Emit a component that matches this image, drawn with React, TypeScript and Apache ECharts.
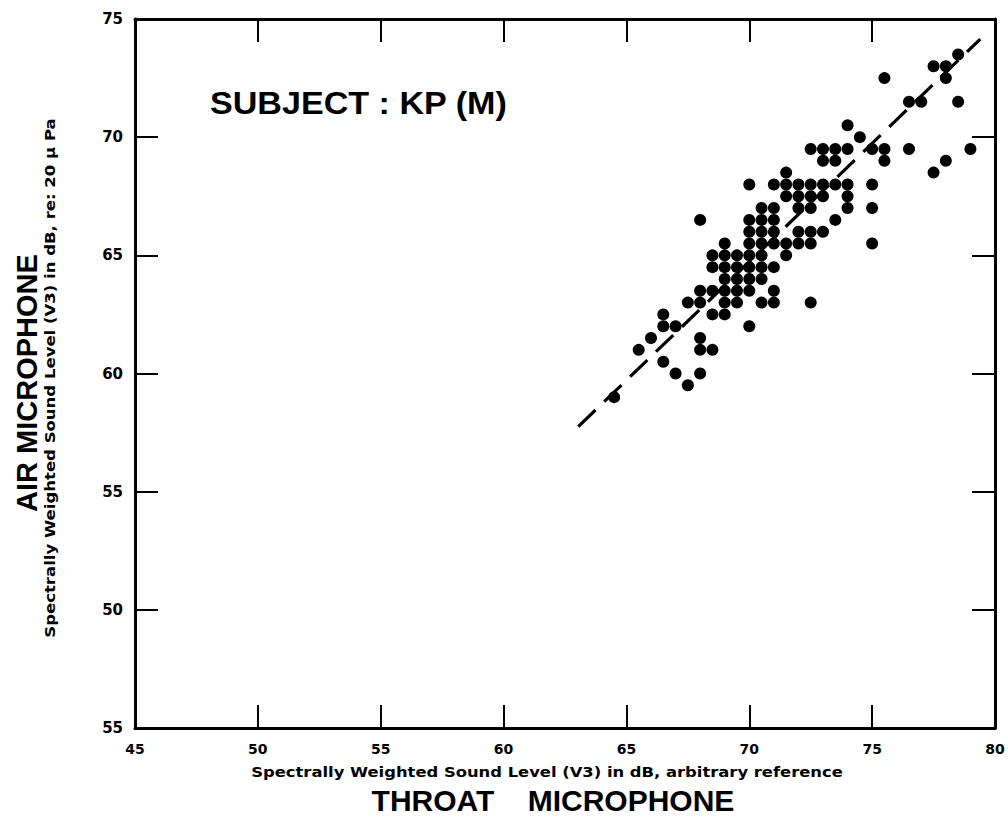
import React, { useEffect, useRef } from "react";
import * as echarts from "echarts";

// Data (dB values, 0.5 dB steps)
const throatDb: number[] = [
  78.5,
  77.5, 78,
  75.5, 78,
  76.5, 77, 78.5,
  74,
  74.5,
  72.5, 73, 73.5, 74, 75, 75.5, 76.5, 79,
  73, 73.5, 75.5, 78,
  71.5, 77.5,
  70, 71, 71.5, 72, 72.5, 73, 73.5, 74, 75,
  71.5, 72, 72.5, 73, 74,
  70.5, 71, 72, 72.5, 74, 75,
  68, 70, 70.5, 71, 73.5,
  70, 70.5, 71, 72, 72.5, 73,
  69, 70, 70.5, 71, 71.5, 72, 72.5, 75,
  68.5, 69, 69.5, 70, 70.5, 71.5,
  68.5, 69, 69.5, 70, 70.5, 71,
  69, 69.5, 70, 70.5,
  68, 68.5, 69, 69.5, 70, 71,
  67.5, 68, 69, 69.5, 70.5, 71, 72.5,
  66.5, 68.5, 69,
  66.5, 67, 70,
  66, 68,
  65.5, 68, 68.5,
  66.5,
  67, 68,
  67.5,
  64.5,
];

const airDb: number[] = [
  73.5,
  73, 73,
  72.5, 72.5,
  71.5, 71.5, 71.5,
  70.5,
  70,
  69.5, 69.5, 69.5, 69.5, 69.5, 69.5, 69.5, 69.5,
  69, 69, 69, 69,
  68.5, 68.5,
  68, 68, 68, 68, 68, 68, 68, 68, 68,
  67.5, 67.5, 67.5, 67.5, 67.5,
  67, 67, 67, 67, 67, 67,
  66.5, 66.5, 66.5, 66.5, 66.5,
  66, 66, 66, 66, 66, 66,
  65.5, 65.5, 65.5, 65.5, 65.5, 65.5, 65.5, 65.5,
  65, 65, 65, 65, 65, 65,
  64.5, 64.5, 64.5, 64.5, 64.5, 64.5,
  64, 64, 64, 64,
  63.5, 63.5, 63.5, 63.5, 63.5, 63.5,
  63, 63, 63, 63, 63, 63, 63,
  62.5, 62.5, 62.5,
  62, 62, 62,
  61.5, 61.5,
  61, 61, 61,
  60.5,
  60, 60,
  59.5,
  59,
];

// Fitted (dashed) line end points
const fitThroat: number[] = [63.04, 79.4];
const fitAir: number[] = [57.75, 74.15];

// Axis ticks
const yTickValues: number[] = [45, 50, 55, 60, 65, 70, 75];
const yTickText: string[] = ["55", "50", "55", "60", "65", "70", "75"];

const subjectText = "SUBJECT : KP (M)";
const yTitle = "AIR MICROPHONE";
const ySubtitle = "Spectrally Weighted Sound Level (V3) in dB, re: 20 \u03bc Pa";
const xSubtitle = "Spectrally Weighted Sound Level (V3) in dB, arbitrary reference";
const xTitle = "THROAT    MICROPHONE";

export default function App() {
  const ref = useRef<HTMLDivElement>(null);

  useEffect(() => {
    if (!ref.current) return;
    const chart = echarts.init(ref.current, undefined, { renderer: "svg" });

    const points = throatDb.map((x, i) => [x, airDb[i]]);
    const fitLine = fitThroat.map((x, i) => [x, fitAir[i]]);

    const labelFont = {
      fontFamily: "DejaVu Sans",
      fontWeight: "bold" as const,
      fontSize: 14,
      color: "#000",
    };
    const line = { show: true, onZero: false, lineStyle: { color: "#000", width: 3 } };
    const tick = { show: true, inside: true, length: 23, lineStyle: { color: "#000", width: 2 } };

    chart.setOption({
      animation: false,
      backgroundColor: "#fff",
      grid: { left: 135, right: 13, top: 19, bottom: 90, containLabel: false },
      xAxis: [
        {
          type: "value",
          position: "bottom",
          min: 45,
          max: 80,
          interval: 5,
          axisLine: line,
          axisTick: tick,
          splitLine: { show: false },
          axisLabel: { ...labelFont, margin: 14 },
        },
        {
          type: "value",
          position: "top",
          min: 45,
          max: 80,
          interval: 5,
          axisLine: line,
          axisTick: tick,
          splitLine: { show: false },
          axisLabel: { show: false },
        },
      ],
      yAxis: [
        {
          type: "value",
          position: "left",
          min: 45,
          max: 75,
          interval: 5,
          axisLine: line,
          axisTick: tick,
          splitLine: { show: false },
          axisLabel: {
            ...labelFont,
            fontSize: 15,
            margin: 12,
            formatter: (v: number) => {
              const k = yTickValues.indexOf(v);
              return k >= 0 ? yTickText[k] : "";
            },
          },
        },
        {
          type: "value",
          position: "right",
          min: 45,
          max: 75,
          interval: 5,
          axisLine: line,
          axisTick: tick,
          splitLine: { show: false },
          axisLabel: { show: false },
        },
      ],
      series: [
        {
          type: "line",
          data: fitLine,
          xAxisIndex: 0,
          yAxisIndex: 0,
          symbol: "none",
          lineStyle: { color: "#000", width: 3.2, type: [24, 12], opacity: 1 },
          silent: true,
          z: 2,
        },
        {
          type: "scatter",
          data: points,
          xAxisIndex: 0,
          yAxisIndex: 0,
          symbol: "circle",
          symbolSize: 12,
          itemStyle: { color: "#000", opacity: 1 },
          z: 3,
        },
      ],
      graphic: [
        {
          type: "text",
          x: 210,
          y: 104,
          scaleX: 1.1,
          style: {
            text: subjectText,
            fontFamily: "Liberation Sans",
            fontWeight: "bold",
            fontSize: 31,
            fill: "#000",
            align: "left",
            verticalAlign: "middle",
          },
        },
        {
          type: "text",
          x: 27,
          y: 383,
          rotation: Math.PI / 2,
          style: {
            text: yTitle,
            fontFamily: "Liberation Sans",
            fontWeight: "bold",
            fontSize: 29,
            fill: "#000",
            align: "center",
            verticalAlign: "middle",
          },
        },
        {
          type: "text",
          x: 50,
          y: 378,
          rotation: Math.PI / 2,
          scaleX: 1.18,
          style: {
            text: ySubtitle,
            fontFamily: "DejaVu Sans",
            fontWeight: "bold",
            fontSize: 14,
            fill: "#000",
            align: "center",
            verticalAlign: "middle",
          },
        },
        {
          type: "text",
          x: 547,
          y: 772,
          scaleX: 1.17,
          style: {
            text: xSubtitle,
            fontFamily: "DejaVu Sans",
            fontWeight: "bold",
            fontSize: 14,
            fill: "#000",
            align: "center",
            verticalAlign: "middle",
          },
        },
        {
          type: "text",
          x: 553,
          y: 800,
          style: {
            text: xTitle,
            fontFamily: "Liberation Sans",
            fontWeight: "bold",
            fontSize: 30,
            fill: "#000",
            align: "center",
            verticalAlign: "middle",
          },
        },
      ],
    });

    return () => chart.dispose();
  }, []);

  return (
    <div
      ref={ref}
      style={{ position: "absolute", left: 0, top: 0, width: 1008, height: 818, background: "#fff" }}
    />
  );
}
